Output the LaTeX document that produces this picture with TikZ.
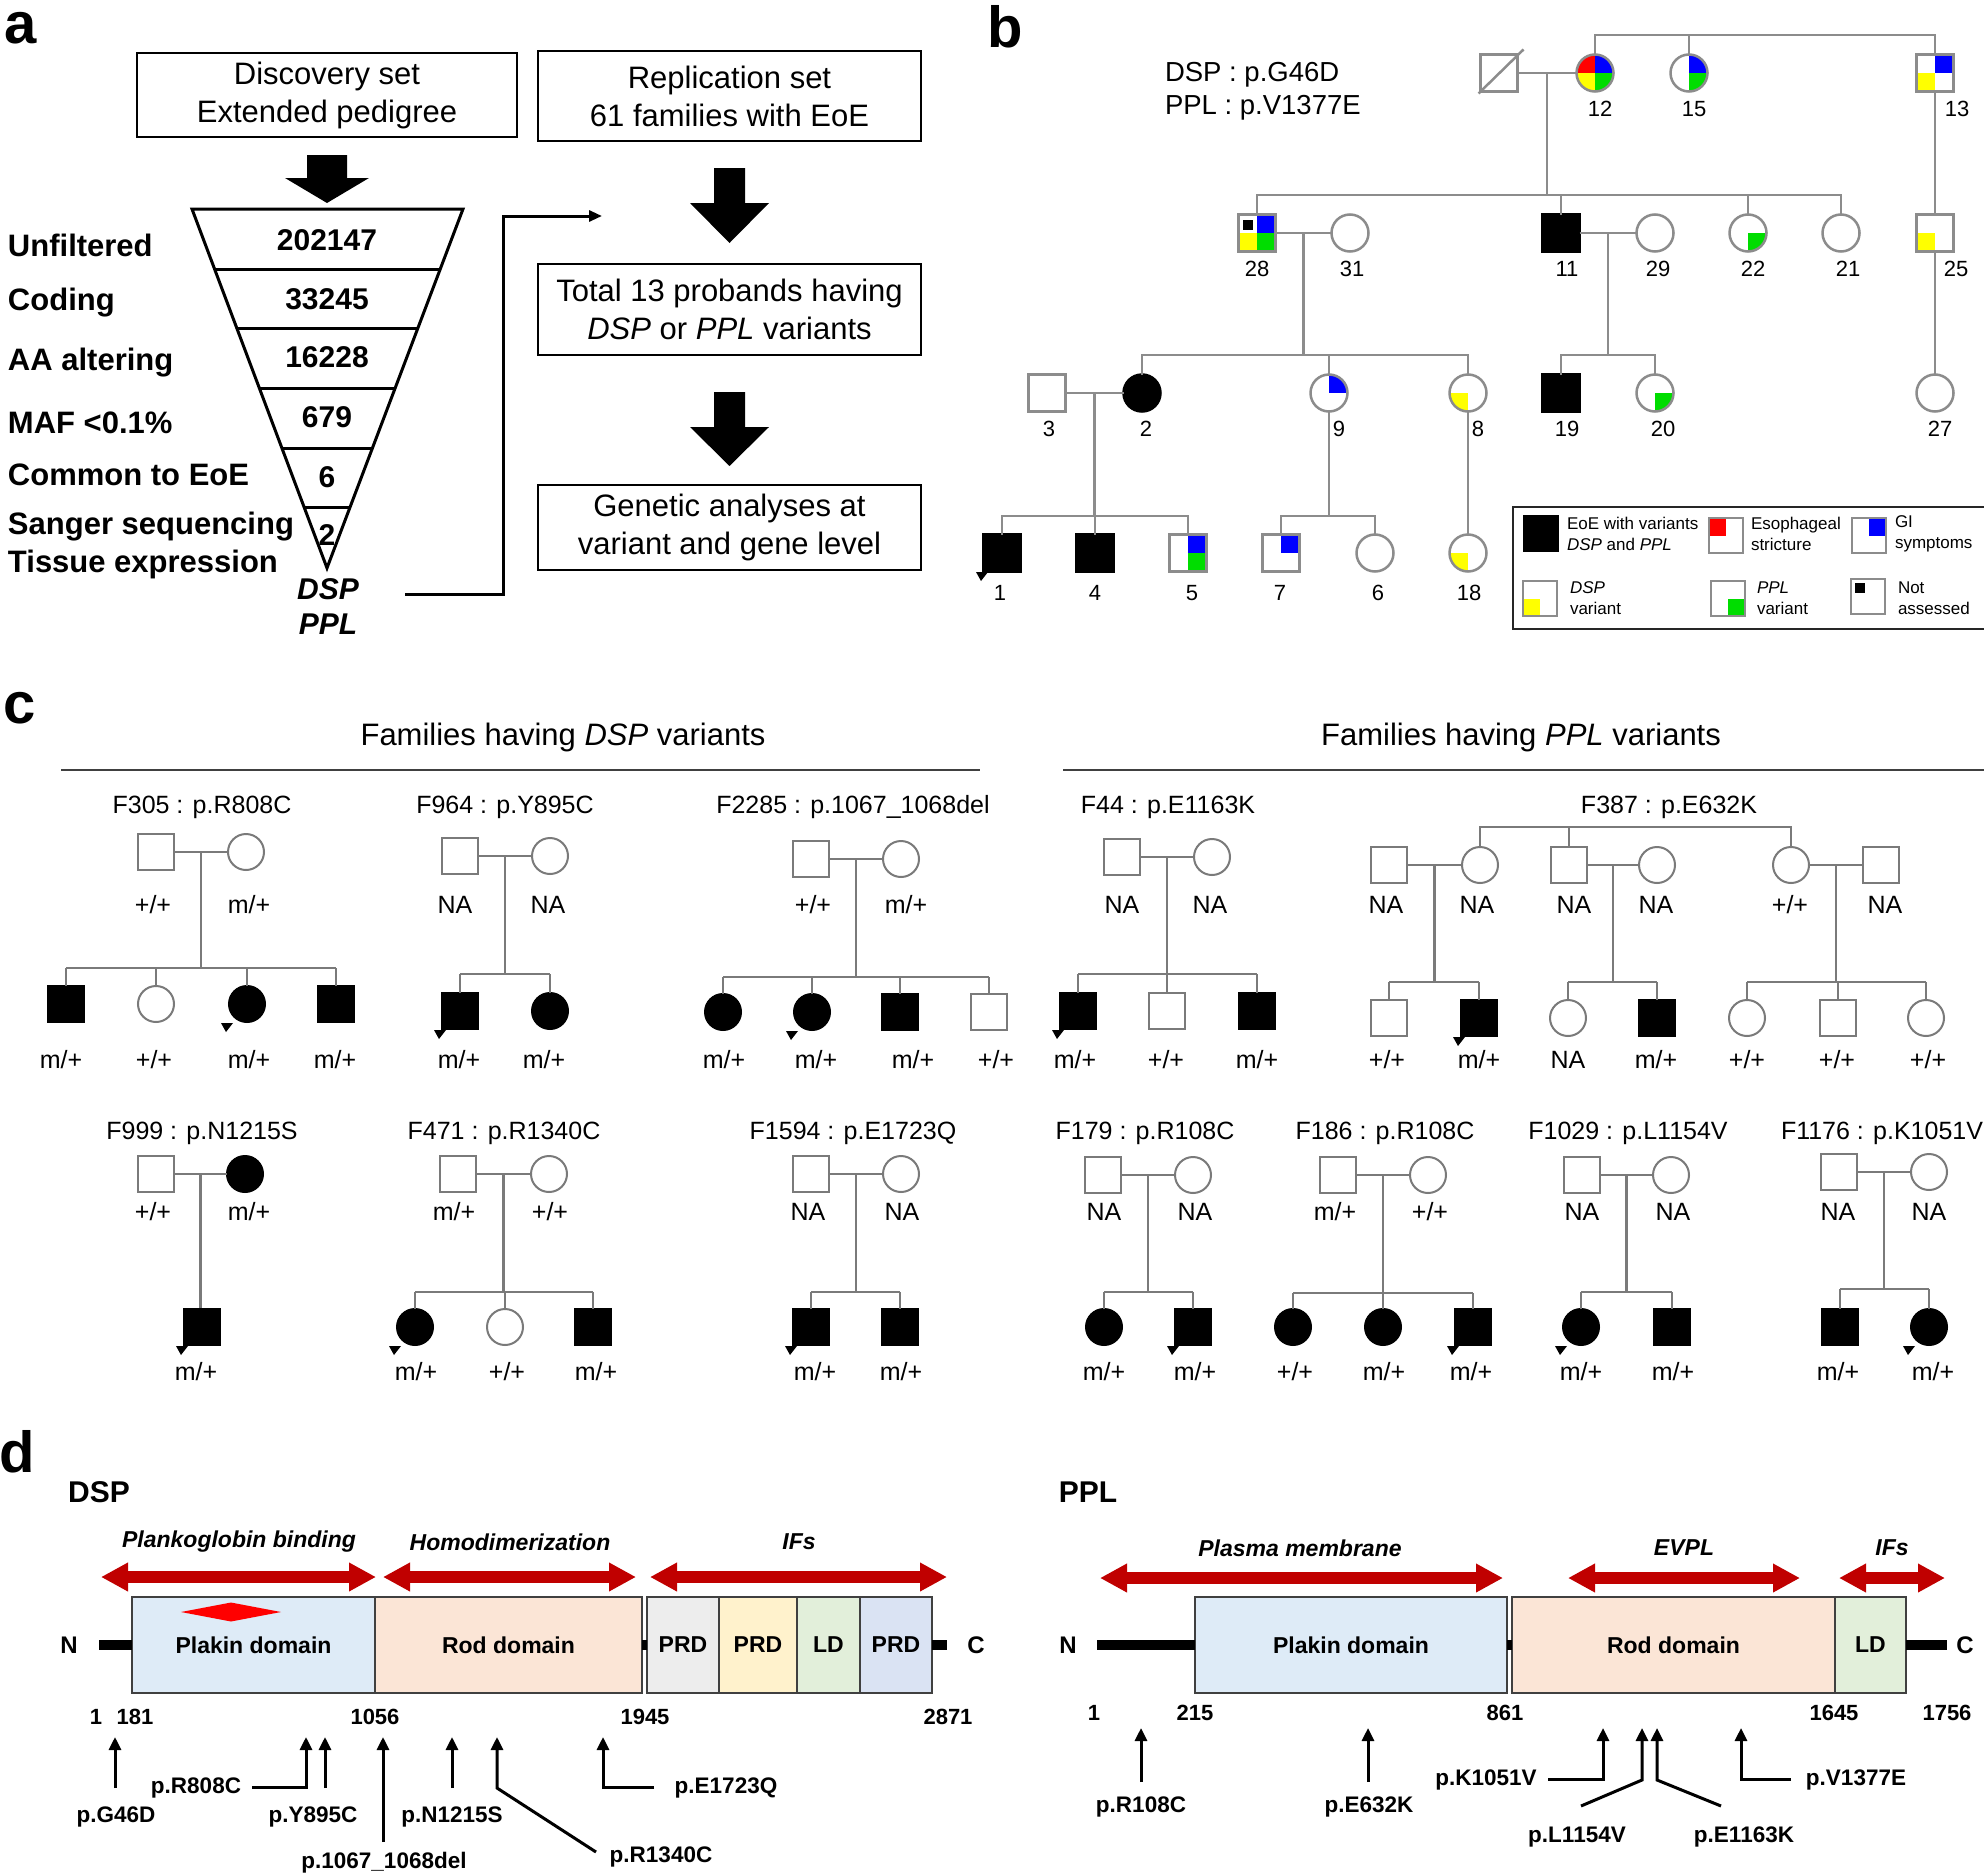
\documentclass[tikz,border=0pt]{standalone}
\usepackage{fontspec}
\setmainfont{Liberation Sans}
\usetikzlibrary{arrows.meta,calc}
\definecolor{pedgray}{HTML}{8C8C8C}
\definecolor{cgray}{HTML}{7A7A7A}
\definecolor{arrred}{HTML}{C00000}
\definecolor{plakinc}{HTML}{DEEBF7}
\definecolor{rodc}{HTML}{FBE5D6}
\definecolor{prdgc}{HTML}{EDEDED}
\definecolor{prdyc}{HTML}{FFF2CC}
\definecolor{ldc}{HTML}{E2EFDA}
\definecolor{prdbc}{HTML}{DAE3F3}
\definecolor{qgreen}{HTML}{00DD00}
\definecolor{qblue}{HTML}{0000FF}
\definecolor{qyellow}{HTML}{FFFF00}
\definecolor{qred}{HTML}{FF0000}
\definecolor{dgray}{HTML}{404040}
% proband marker: centre x, centre y of a symbol
\newcommand{\prb}[2]{\fill (#1-26,#2+19) -- ++(12,0) -- ++(-7,9) -- cycle;}
% couple: id, left x, right x, y, left opts, right opts, sibship y
\newcommand{\couple}[7]{%
  \node[#5] (#1f) at (#2,#4) {};
  \node[#6] (#1m) at (#3,#4) {};
  \draw[cline] (#1f.east) -- (#1m.west);
  \coordinate (#1k) at ($(#1f.east)!0.5!(#1m.west)$);
  \coordinate (#1s) at (0,#7);
  \draw[cline] (#1k) -- (#1k |- #1s);}
\newcommand{\kid}[5]{%
  \node[#5] (#1#2) at (#3,#4) {};
  \draw[cline] (#1#2.north) -- (#1#2.north |- #1s);}
\newcommand{\sibl}[3]{\draw[cline] (#1#2.north |- #1s) -- (#1#3.north |- #1s);}
\newcommand{\gt}[4]{\node[ctxt] (#1) at (#2,#3) {#4};}
\begin{document}
\begin{tikzpicture}[x=1pt,y=-1pt,
  every node/.style={inner sep=0pt,outer sep=0pt},
  panel/.style={font=\fontsize{58}{60}\selectfont\bfseries},
  flowbox/.style={draw=black,line width=1.5pt,align=center,font=\fontsize{31}{38}\selectfont},
  steplbl/.style={anchor=west,font=\fontsize{31}{36}\selectfont\bfseries},
  fnum/.style={font=\fontsize{30}{36}\selectfont\bfseries},
  gene/.style={font=\fontsize{30}{36}\selectfont\bfseries\itshape},
  link/.style={line width=3pt,-{Triangle[length=13pt,width=11pt]}},
  pline/.style={draw=pedgray,line width=2.5pt},
  bsym/.style={draw=pedgray,line width=2.5pt,fill=white,minimum size=37pt},
  bsq/.style={bsym,rectangle},
  bci/.style={bsym,circle},
  aff/.style={fill=black,draw=black},
  blab/.style={font=\fontsize{22}{26}\selectfont},
  lsym/.style={draw=pedgray,line width=2pt,fill=white,minimum width=34pt,minimum height=35pt},
  ltxt/.style={anchor=west,align=left,font=\fontsize{17}{20.5}\selectfont},
  cline/.style={draw=cgray,line width=2.1pt},
  csym/.style={draw=cgray,line width=2pt,fill=white,minimum size=36pt},
  csq/.style={csym,rectangle},
  cci/.style={csym,circle},
  ctxt/.style={font=\fontsize{25}{30}\selectfont},
  chead/.style={font=\fontsize{31}{36}\selectfont},
  hrule/.style={draw=dgray,line width=2.5pt},
  gname/.style={font=\fontsize{30}{36}\selectfont\bfseries},
  ncl/.style={font=\fontsize{24}{28}\selectfont\bfseries},
  region/.style={font=\fontsize{23}{28}\selectfont\bfseries\itshape},
  redarr/.style={draw=arrred,line width=12pt,{Triangle[length=27pt,width=27pt]}-{Triangle[length=27pt,width=27pt]}},
  dom/.style={draw=dgray,line width=1.5pt,minimum height=96pt,font=\fontsize{23}{28}\selectfont\bfseries},
  bb/.style={line width=10pt},
  posn/.style={font=\fontsize{22}{26}\selectfont\bfseries},
  varl/.style={font=\fontsize{22.5}{27}\selectfont\bfseries},
  parr/.style={line width=3pt,-{Triangle[length=13pt,width=12pt]}},
  qd/.style n args={4}{path picture={
    \path[fill=#1] (path picture bounding box.center) rectangle (path picture bounding box.north west);
    \path[fill=#2] (path picture bounding box.center) rectangle (path picture bounding box.north east);
    \path[fill=#3] (path picture bounding box.center) rectangle (path picture bounding box.south west);
    \path[fill=#4] (path picture bounding box.center) rectangle (path picture bounding box.south east);}}
]
\useasboundingbox[fill=white] (0,0) rectangle (1984,1876);

% ================= panel a
\node[panel] (la) at (21,28) {a};
\node[flowbox,minimum width=380pt,minimum height=84pt] (disc) at (327,95) {Discovery set\\Extended pedigree};
\node[flowbox,minimum width=383pt,minimum height=90pt] (repl) at (729.5,96) {Replication set\\61 families with EoE};
\node[flowbox,minimum width=383pt,minimum height=91pt] (tot) at (729.5,309.5) {Total 13 probands having\\\textit{DSP} or \textit{PPL} variants};
\node[flowbox,minimum width=383pt,minimum height=85pt] (gen) at (729.5,527.5) {Genetic analyses at\\variant and gene level};
\fill (307,155) -- (347,155) -- (347,178) -- (369,178) -- (327,203) -- (285,178) -- (307,178) -- cycle;
\fill (714,168) -- (745,168) -- (745,203) -- (769,203) -- (729.5,243) -- (690,203) -- (714,203) -- cycle;
\fill (714,392) -- (745,392) -- (745,427) -- (769,427) -- (729.5,466) -- (690,427) -- (714,427) -- cycle;
\draw[line width=3pt,line join=miter] (192,209) -- (463,209) -- (327,568) -- cycle;
\draw[line width=3pt] (214.6,269) -- (440.3,269);
\draw[line width=3pt] (236.8,328) -- (417.9,328);
\draw[line width=3pt] (259.3,388) -- (395.2,388);
\draw[line width=3pt] (281.9,448) -- (372.5,448);
\draw[line width=3pt] (304.1,507) -- (350.1,507);
\node[fnum] (n1) at (327,240) {202147};
\node[fnum] (n2) at (327,299) {33245};
\node[fnum] (n3) at (327,357) {16228};
\node[fnum] (n4) at (327,417) {679};
\node[fnum] (n5) at (327,477) {6};
\node[fnum] (n6) at (327,535) {2};
\node[steplbl] (s1) at (8,245) {Unfiltered};
\node[steplbl] (s2) at (8,303) {Coding};
\node[steplbl] (s3) at (8,363) {AA altering};
\node[steplbl] (s4) at (8,423) {MAF <0.1\%};
\node[steplbl] (s5) at (8,475) {Common to EoE};
\node[steplbl] (s6) at (8,527) {Sanger sequencing};
\node[steplbl] (s7) at (8,564) {Tissue expression};
\node[gene] (gdsp) at (328,589) {DSP};
\node[gene] (gppl) at (328,624) {PPL};
\coordinate (lkA) at (405,594);
\coordinate (lkB) at (602,216);
\draw[link] (lkA) -- ++(98,0) |- (lkB);

% ================= panel b
\node[panel] (lb) at (1005,27) {b};
\node[anchor=west,font=\fontsize{27.5}{33}\selectfont] (bt1) at (1165,75) {DSP : p.G46D};
\node[anchor=west,font=\fontsize{27.5}{33}\selectfont] (bt2) at (1165,108) {PPL : p.V1377E};
% generation I
\node[bsq] (d1) at (1499,73) {};
\node[bci,qd={qred}{qblue}{qyellow}{qgreen}] (p12) at (1595,73) {};
\node[bci,qd={none}{qblue}{none}{qgreen}] (p15) at (1689,73) {};
\node[bsq,qd={none}{qblue}{qyellow}{none}] (p13) at (1935,73) {};
\draw[pline] ([shift={(-2,2)}]d1.south west) -- ([shift={(6,-5)}]d1.north east);
\coordinate (topsib) at (0,35);
\coordinate (sib2) at (0,195);
\coordinate (sib3) at (0,355);
\coordinate (sib4) at (0,516);
% generation II
\node[bsq,qd={none}{qblue}{qyellow}{qgreen}] (p28) at (1257,233) {};
\fill (1243,220) rectangle (1253,230);
\node[bci] (p31) at (1350,233) {};
\node[bsq,aff] (p11) at (1561,233) {};
\node[bci] (p29) at (1655,233) {};
\node[bci,qd={none}{none}{none}{qgreen}] (p22) at (1748,233) {};
\node[bci] (p21) at (1841,233) {};
\node[bsq,qd={none}{none}{qyellow}{none}] (p25) at (1935,233) {};
% generation III
\node[bsq] (p3) at (1047,393) {};
\node[bci,aff] (p2) at (1142,393) {};
\node[bci,qd={none}{qblue}{none}{none}] (p9) at (1329,393) {};
\node[bci,qd={none}{none}{qyellow}{none}] (p8) at (1468,393) {};
\node[bsq,aff] (p19) at (1561,393) {};
\node[bci,qd={none}{none}{none}{qgreen}] (p20) at (1655,393) {};
\node[bci] (p27) at (1935,393) {};
% generation IV
\node[bsq,aff] (p1) at (1002,553) {};
\prb{1002}{553}
\node[bsq,aff] (p4) at (1095,553) {};
\node[bsq,qd={none}{qblue}{none}{qgreen}] (p5) at (1188,553) {};
\node[bsq,qd={none}{qblue}{none}{none}] (p7) at (1281,553) {};
\node[bci] (p6) at (1375,553) {};
\node[bci,qd={none}{none}{qyellow}{none}] (p18) at (1468,553) {};
% lines
\draw[pline] (p12.north) |- (p13.north |- topsib) -- (p13.north);
\draw[pline] (p15.north) -- (p15.north |- topsib);
\draw[pline] (d1.east) -- (p12.west);
\coordinate (m1) at ($(d1.east)!0.5!(p12.west)$);
\draw[pline] (m1) -- (m1 |- sib2);
\draw[pline] (p28.north) |- (p21.north |- sib2) -- (p21.north);
\draw[pline] (p11.north) -- (p11.north |- sib2);
\draw[pline] (p22.north) -- (p22.north |- sib2);
\draw[pline] (p13.south) -- (p25.north);
\draw[pline] (p25.south) -- (p27.north);
\draw[pline] (p28.east) -- (p31.west);
\coordinate (m2) at ($(p28.east)!0.5!(p31.west)$);
\draw[pline] (m2) -- (m2 |- sib3);
\draw[pline] (p11.east) -- (p29.west);
\coordinate (m3) at ($(p11.east)!0.5!(p29.west)$);
\draw[pline] (m3) -- (m3 |- sib3);
\draw[pline] (p2.north) |- (p8.north |- sib3) -- (p8.north);
\draw[pline] (p9.north) -- (p9.north |- sib3);
\draw[pline] (p19.north) |- (p20.north |- sib3) -- (p20.north);
\draw[pline] (p3.east) -- (p2.west);
\coordinate (m4) at ($(p3.east)!0.5!(p2.west)$);
\draw[pline] (m4) -- (m4 |- sib4);
\draw[pline] (p1.north) |- (p5.north |- sib4) -- (p5.north);
\draw[pline] (p4.north) -- (p4.north |- sib4);
\draw[pline] (p9.south) -- (p9.south |- sib4);
\draw[pline] (p7.north) |- (p6.north |- sib4) -- (p6.north);
\draw[pline] (p8.south) -- (p18.north);
% numbers
\node[blab] (l12) at (1600,109) {12};
\node[blab] (l15) at (1694,109) {15};
\node[blab] (l13) at (1957,109) {13};
\node[blab] (l28) at (1257,269) {28};
\node[blab] (l31) at (1352,269) {31};
\node[blab] (l11) at (1567,269) {11};
\node[blab] (l29) at (1658,269) {29};
\node[blab] (l22) at (1753,269) {22};
\node[blab] (l21) at (1848,269) {21};
\node[blab] (l25) at (1956,269) {25};
\node[blab] (l3) at (1049,429) {3};
\node[blab] (l2) at (1146,429) {2};
\node[blab] (l9) at (1339,429) {9};
\node[blab] (l8) at (1478,429) {8};
\node[blab] (l19) at (1567,429) {19};
\node[blab] (l20) at (1663,429) {20};
\node[blab] (l27) at (1940,429) {27};
\node[blab] (l1) at (1000,593) {1};
\node[blab] (l4) at (1095,593) {4};
\node[blab] (l5) at (1192,593) {5};
\node[blab] (l7) at (1280,593) {7};
\node[blab] (l6) at (1378,593) {6};
\node[blab] (l18) at (1469,593) {18};
% legend
\draw[line width=2pt,draw=black!85] (1990,507) -| (1513,629) -- (1990,629);
\node[lsym,aff] (lg1) at (1541,533.5) {};
\node[lsym,qd={qred}{none}{none}{none}] (lg2) at (1726,535.5) {};
\node[lsym,qd={none}{qblue}{none}{none}] (lg3) at (1868.5,535.5) {};
\node[lsym,qd={none}{none}{qyellow}{none}] (lg4) at (1540,598.5) {};
\node[lsym,qd={none}{none}{none}{qgreen}] (lg5) at (1728,598.5) {};
\node[lsym] (lg6) at (1868,596.5) {};
\fill (1855,583) rectangle (1865,593);
\node[ltxt] (lt1) at (1567,534) {EoE with variants\\\textit{DSP} and \textit{PPL}};
\node[ltxt] (lt2) at (1751,534) {Esophageal\\stricture};
\node[ltxt] (lt3) at (1895,534) {GI\\symptoms};
\node[ltxt] (lt4) at (1570,598) {\textit{DSP}\\variant};
\node[ltxt] (lt5) at (1757,598) {\textit{PPL}\\variant};
\node[ltxt] (lt6) at (1898,598) {Not\\assessed};

% ================= panel c
\node[panel] (lc) at (20,708) {c};
\node[chead] (hd1) at (563,737) {Families having \textit{DSP} variants};
\node[chead] (hd2) at (1521,737) {Families having \textit{PPL} variants};
\coordinate (hr1a) at (61,770); \coordinate (hr1b) at (980,770);
\coordinate (hr2a) at (1063,770); \coordinate (hr2b) at (1990,770);
\draw[hrule] (hr1a) -- (hr1b);
\draw[hrule] (hr2a) -- (hr2b);
% F305
\node[ctxt] (t305) at (202,807) {F305 : p.R808C};
\couple{f305}{156}{246}{852}{csq}{cci}{968}
\kid{f305}{a}{66}{1004}{csq,aff}
\kid{f305}{b}{156}{1004}{cci}
\kid{f305}{c}{247}{1004}{cci,aff}
\kid{f305}{d}{336}{1004}{csq,aff}
\sibl{f305}{a}{d}
\prb{247}{1004}
\gt{g305f}{153}{905}{+/+} \gt{g305m}{249}{905}{m/+}
\gt{g305a}{61}{1060}{m/+} \gt{g305b}{154}{1060}{+/+} \gt{g305c}{249}{1060}{m/+} \gt{g305d}{335}{1060}{m/+}
% F964
\node[ctxt] (t964) at (505,807) {F964 : p.Y895C};
\couple{f964}{460}{550}{856}{csq}{cci}{974}
\kid{f964}{a}{460}{1011}{csq,aff}
\kid{f964}{b}{550}{1011}{cci,aff}
\sibl{f964}{a}{b}
\prb{460}{1011}
\gt{g964f}{455}{905}{NA} \gt{g964m}{548}{905}{NA}
\gt{g964a}{459}{1060}{m/+} \gt{g964b}{544}{1060}{m/+}
% F2285
\node[ctxt] (t2285) at (853,807) {F2285 : p.1067\_1068del};
\couple{f2285}{811}{901}{859}{csq}{cci}{977}
\kid{f2285}{a}{723}{1012}{cci,aff}
\kid{f2285}{b}{812}{1012}{cci,aff}
\kid{f2285}{c}{900}{1012}{csq,aff}
\kid{f2285}{d}{989}{1012}{csq}
\sibl{f2285}{a}{d}
\prb{812}{1012}
\gt{g2285f}{813}{905}{+/+} \gt{g2285m}{906}{905}{m/+}
\gt{g2285a}{724}{1060}{m/+} \gt{g2285b}{816}{1060}{m/+} \gt{g2285c}{913}{1060}{m/+} \gt{g2285d}{996}{1060}{+/+}
% F44
\node[ctxt] (t44) at (1168,807) {F44 : p.E1163K};
\couple{f44}{1122}{1212}{857}{csq}{cci}{974}
\kid{f44}{a}{1078}{1011}{csq,aff}
\kid{f44}{b}{1167}{1011}{csq}
\kid{f44}{c}{1257}{1011}{csq,aff}
\sibl{f44}{a}{c}
\prb{1078}{1011}
\gt{g44f}{1122}{905}{NA} \gt{g44m}{1210}{905}{NA}
\gt{g44a}{1075}{1060}{m/+} \gt{g44b}{1166}{1060}{+/+} \gt{g44c}{1257}{1060}{m/+}
% F387
\node[ctxt] (t387) at (1669,807) {F387 : p.E632K};
\coordinate (t387s) at (0,827);
\couple{fa}{1389}{1480}{865}{csq}{cci}{982}
\couple{fb}{1569}{1657}{865}{csq}{cci}{982}
\couple{fc}{1791}{1881}{865}{cci}{csq}{982}
\draw[cline] (fam.north) |- (fcf.north |- t387s) -- (fcf.north);
\draw[cline] (fbf.north) -- (fbf.north |- t387s);
\kid{fa}{a}{1389}{1018}{csq}
\kid{fa}{b}{1479}{1018}{csq,aff}
\sibl{fa}{a}{b}
\prb{1479}{1018}
\kid{fb}{a}{1568}{1018}{cci}
\kid{fb}{b}{1657}{1018}{csq,aff}
\sibl{fb}{a}{b}
\kid{fc}{a}{1747}{1018}{cci}
\kid{fc}{b}{1838}{1018}{csq}
\kid{fc}{c}{1926}{1018}{cci}
\sibl{fc}{a}{c}
\gt{g387a}{1386}{905}{NA} \gt{g387b}{1477}{905}{NA} \gt{g387c}{1574}{905}{NA}
\gt{g387d}{1656}{905}{NA} \gt{g387e}{1790}{905}{+/+} \gt{g387f}{1885}{905}{NA}
\gt{g387g}{1387}{1060}{+/+} \gt{g387h}{1479}{1060}{m/+} \gt{g387i}{1568}{1060}{NA}
\gt{g387j}{1656}{1060}{m/+} \gt{g387k}{1747}{1060}{+/+} \gt{g387l}{1837}{1060}{+/+} \gt{g387m}{1928}{1060}{+/+}
% F999
\node[ctxt] (t999) at (202,1133) {F999 : p.N1215S};
\couple{f999}{156}{245}{1174}{csq}{cci,aff}{1309}
\kid{f999}{a}{202}{1327}{csq,aff}
\prb{202}{1327}
\gt{g999f}{153}{1212}{+/+} \gt{g999m}{249}{1212}{m/+} \gt{g999a}{196}{1372}{m/+}
% F471
\node[ctxt] (t471) at (504,1133) {F471 : p.R1340C};
\couple{f471}{458}{549}{1174}{csq}{cci}{1292}
\kid{f471}{a}{415}{1327}{cci,aff}
\kid{f471}{b}{505}{1327}{cci}
\kid{f471}{c}{593}{1327}{csq,aff}
\sibl{f471}{a}{c}
\prb{415}{1327}
\gt{g471f}{454}{1212}{m/+} \gt{g471m}{550}{1212}{+/+}
\gt{g471a}{416}{1372}{m/+} \gt{g471b}{507}{1372}{+/+} \gt{g471c}{596}{1372}{m/+}
% F1594
\node[ctxt] (t1594) at (853,1133) {F1594 : p.E1723Q};
\couple{f1594}{811}{901}{1174}{csq}{cci}{1292}
\kid{f1594}{a}{811}{1327}{csq,aff}
\kid{f1594}{b}{900}{1327}{csq,aff}
\sibl{f1594}{a}{b}
\prb{811}{1327}
\gt{g1594f}{808}{1212}{NA} \gt{g1594m}{902}{1212}{NA}
\gt{g1594a}{815}{1372}{m/+} \gt{g1594b}{901}{1372}{m/+}
% F179
\node[ctxt] (t179) at (1145,1133) {F179 : p.R108C};
\couple{f179}{1103}{1193}{1175}{csq}{cci}{1292}
\kid{f179}{a}{1104}{1327}{cci,aff}
\kid{f179}{b}{1193}{1327}{csq,aff}
\sibl{f179}{a}{b}
\prb{1193}{1327}
\gt{g179f}{1104}{1212}{NA} \gt{g179m}{1195}{1212}{NA}
\gt{g179a}{1104}{1372}{m/+} \gt{g179b}{1195}{1372}{m/+}
% F186
\node[ctxt] (t186) at (1385,1133) {F186 : p.R108C};
\couple{f186}{1338}{1428}{1175}{csq}{cci}{1293}
\kid{f186}{a}{1293}{1327}{cci,aff}
\kid{f186}{b}{1383}{1327}{cci,aff}
\kid{f186}{c}{1473}{1327}{csq,aff}
\sibl{f186}{a}{c}
\prb{1473}{1327}
\gt{g186f}{1335}{1212}{m/+} \gt{g186m}{1430}{1212}{+/+}
\gt{g186a}{1295}{1372}{+/+} \gt{g186b}{1384}{1372}{m/+} \gt{g186c}{1471}{1372}{m/+}
% F1029
\node[ctxt] (t1029) at (1628,1133) {F1029 : p.L1154V};
\couple{f1029}{1582}{1671}{1175}{csq}{cci}{1292}
\kid{f1029}{a}{1581}{1327}{cci,aff}
\kid{f1029}{b}{1672}{1327}{csq,aff}
\sibl{f1029}{a}{b}
\prb{1581}{1327}
\gt{g1029f}{1582}{1212}{NA} \gt{g1029m}{1673}{1212}{NA}
\gt{g1029a}{1581}{1372}{m/+} \gt{g1029b}{1673}{1372}{m/+}
% F1176
\node[ctxt] (t1176) at (1882,1133) {F1176 : p.K1051V};
\couple{f1176}{1839}{1929}{1172}{csq}{cci}{1289}
\kid{f1176}{a}{1840}{1327}{csq,aff}
\kid{f1176}{b}{1929}{1327}{cci,aff}
\sibl{f1176}{a}{b}
\prb{1929}{1327}
\gt{g1176f}{1838}{1212}{NA} \gt{g1176m}{1929}{1212}{NA}
\gt{g1176a}{1838}{1372}{m/+} \gt{g1176b}{1933}{1372}{m/+}

% ================= panel d
\node[panel] (ld) at (17,1452) {d};
\node[gname] (dspname) at (99,1492) {DSP};
\node[gname] (pplname) at (1088,1492) {PPL};
\node[region] (r1) at (239,1542) {Plankoglobin binding};
\node[region] (r2) at (510,1542) {Homodimerization};
\node[region] (r3) at (799,1542) {IFs};
\node[region] (r4) at (1300,1548) {Plasma membrane};
\node[region] (r5) at (1684,1548) {EVPL};
\node[region] (r6) at (1892,1548) {IFs};
\coordinate (ra1) at (101,1577); \coordinate (rb1) at (376,1577);
\coordinate (ra2) at (383,1577); \coordinate (rb2) at (636,1577);
\coordinate (ra3) at (650,1577); \coordinate (rb3) at (947,1577);
\coordinate (ra4) at (1100,1578); \coordinate (rb4) at (1503,1578);
\coordinate (ra5) at (1568,1578); \coordinate (rb5) at (1800,1578);
\coordinate (ra6) at (1839,1578); \coordinate (rb6) at (1945,1578);
\draw[redarr] (ra1) -- (rb1);
\draw[redarr] (ra2) -- (rb2);
\draw[redarr] (ra3) -- (rb3);
\draw[redarr] (ra4) -- (rb4);
\draw[redarr] (ra5) -- (rb5);
\draw[redarr] (ra6) -- (rb6);
% DSP protein
\node[dom,fill=plakinc,minimum width=243pt] (dplk) at (253.5,1645) {Plakin domain};
\node[dom,fill=rodc,minimum width=267pt] (drod) at (508.5,1645) {Rod domain};
\node[dom,fill=prdgc,minimum width=72pt] (dprd1) at (683,1645) {PRD};
\node[dom,fill=prdyc,minimum width=78pt] (dprd2) at (758,1645) {PRD};
\node[dom,fill=ldc,minimum width=63pt] (dld) at (828.5,1645) {LD};
\node[dom,fill=prdbc,minimum width=72pt] (dprd3) at (896,1645) {PRD};
\coordinate (dN) at (99,1645); \coordinate (dC) at (947,1645);
\draw[bb] (dN) -- (dplk.west);
\draw[bb] (drod.east) -- (dprd1.west);
\draw[bb] (dprd3.east) -- (dC);
\fill[red] (181,1612) -- (231,1602.5) -- (281,1612) -- (231,1621.5) -- cycle;
\node[ncl] (dNl) at (69,1645) {N};
\node[ncl] (dCl) at (976,1645) {C};
\node[posn] (dp1) at (96,1717) {1};
\node[posn] (dp2) at (135,1717) {181};
\node[posn] (dp3) at (375,1717) {1056};
\node[posn] (dp4) at (645,1717) {1945};
\node[posn] (dp5) at (948,1717) {2871};
% DSP variants
\coordinate (va1) at (115,1788); \coordinate (vb1) at (115,1737);
\coordinate (va2) at (252,1787); \coordinate (vb2) at (306,1737);
\coordinate (va3) at (325,1788); \coordinate (vb3) at (325,1737);
\coordinate (va4) at (383,1842); \coordinate (vb4) at (383,1737);
\coordinate (va5) at (452,1788); \coordinate (vb5) at (452,1737);
\coordinate (va6) at (596,1852); \coordinate (vb6) at (497,1737);
\coordinate (va7) at (654,1787); \coordinate (vb7) at (603,1737);
\draw[parr] (va1) -- (vb1);
\draw[parr] (va2) -| (vb2);
\draw[parr] (va3) -- (vb3);
\draw[parr] (va4) -- (vb4);
\draw[parr] (va5) -- (vb5);
\draw[parr] (va6) -- (497,1788) -- (vb6);
\draw[parr] (va7) -| (vb7);
\node[varl] (vl1) at (116,1817) {p.G46D};
\node[varl] (vl2) at (196,1788) {p.R808C};
\node[varl] (vl3) at (313,1817) {p.Y895C};
\node[varl] (vl4) at (384,1863) {p.1067\_1068del};
\node[varl] (vl5) at (452,1817) {p.N1215S};
\node[varl] (vl6) at (661,1857) {p.R1340C};
\node[varl] (vl7) at (726,1788) {p.E1723Q};
% PPL protein
\node[dom,fill=plakinc,minimum width=312pt] (pplk) at (1351,1645) {Plakin domain};
\node[dom,fill=rodc,minimum width=323pt] (prod) at (1673.5,1645) {Rod domain};
\node[dom,fill=ldc,minimum width=71pt] (pld) at (1870.5,1645) {LD};
\coordinate (pN) at (1097,1645); \coordinate (pC) at (1947,1645);
\draw[bb] (pN) -- (pplk.west);
\draw[bb] (pplk.east) -- (prod.west);
\draw[bb] (pld.east) -- (pC);
\node[ncl] (pNl) at (1068,1645) {N};
\node[ncl] (pCl) at (1965,1645) {C};
\node[posn] (pp1) at (1094,1713) {1};
\node[posn] (pp2) at (1195,1713) {215};
\node[posn] (pp3) at (1505,1713) {861};
\node[posn] (pp4) at (1834,1713) {1645};
\node[posn] (pp5) at (1947,1713) {1756};
% PPL variants
\coordinate (wa1) at (1141,1782); \coordinate (wb1) at (1141,1728);
\coordinate (wa2) at (1368,1782); \coordinate (wb2) at (1368,1728);
\coordinate (wa3) at (1548,1779); \coordinate (wb3) at (1603,1728);
\coordinate (wa4) at (1581,1806); \coordinate (wb4) at (1642,1728);
\coordinate (wa5) at (1721,1806); \coordinate (wb5) at (1657,1728);
\coordinate (wa6) at (1791,1779); \coordinate (wb6) at (1741,1728);
\draw[parr] (wa1) -- (wb1);
\draw[parr] (wa2) -- (wb2);
\draw[parr] (wa3) -| (wb3);
\draw[parr] (wa4) -- (1642,1780) -- (wb4);
\draw[parr] (wa5) -- (1657,1780) -- (wb5);
\draw[parr] (wa6) -| (wb6);
\node[varl] (wl1) at (1141,1807) {p.R108C};
\node[varl] (wl2) at (1369,1807) {p.E632K};
\node[varl] (wl3) at (1486,1780) {p.K1051V};
\node[varl] (wl4) at (1577,1837) {p.L1154V};
\node[varl] (wl5) at (1744,1837) {p.E1163K};
\node[varl] (wl6) at (1856,1780) {p.V1377E};
\end{tikzpicture}
\end{document}
